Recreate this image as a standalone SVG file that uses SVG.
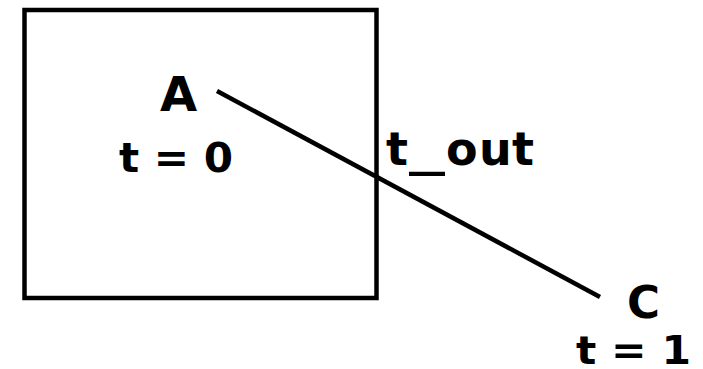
<svg xmlns="http://www.w3.org/2000/svg" width="703" height="369" viewBox="0 0 703 369">
<style>
text{font-family:"DejaVu Sans","Verdana",sans-serif;font-weight:bold;fill:#000}
.s{fill:none;stroke:#000;stroke-width:4.5}
</style>
<rect width="703" height="369" fill="#fff"/>
<g id="box"><rect class="s" x="24.5" y="10" width="352" height="288"/></g>
<g id="connectors"><line class="s" x1="217" y1="91" x2="600" y2="297"/></g>
<g id="A"><text x="178.5" y="111" font-size="48" text-anchor="middle">A</text><text x="119" y="172" font-size="40" textLength="114" lengthAdjust="spacingAndGlyphs">t = 0</text></g>
<g id="tout"><text y="165" font-size="46"><tspan x="386">t</tspan><tspan x="409" textLength="36" lengthAdjust="spacingAndGlyphs">_</tspan><tspan x="446">o</tspan><tspan x="479">u</tspan><tspan x="512">t</tspan></text></g>
<g id="C"><text x="643.5" y="318" font-size="45" text-anchor="middle">C</text><text x="576" y="364" font-size="39" textLength="115" lengthAdjust="spacingAndGlyphs">t = 1</text></g>
</svg>
